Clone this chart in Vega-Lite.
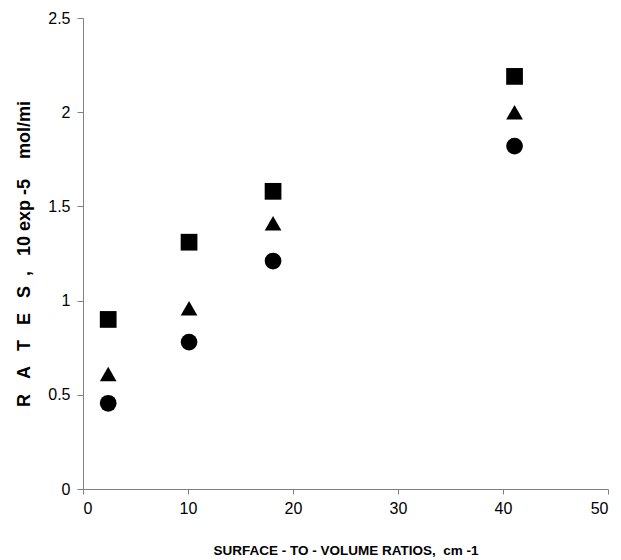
{
  "$schema": "https://vega.github.io/schema/vega-lite/v6.json",
  "width": 525,
  "height": 471,
  "autosize": {"type": "none"},
  "padding": {"left": 83, "top": 18, "right": 13, "bottom": 71},
  "background": "white",
  "config": {
    "view": {"stroke": null},
    "font": "Liberation Sans",
    "axis": {
      "grid": false,
      "domainColor": "#808080",
      "tickColor": "#808080",
      "tickSize": 5,
      "labelFont": "Liberation Sans",
      "labelFontSize": 16,
      "labelColor": "black",
      "titleFont": "Liberation Sans",
      "titleFontWeight": "bold",
      "titleColor": "black"
    }
  },
  "data": {
    "values": [
      {"ratio": 2.4, "rate": 0.90, "series": "A"},
      {"ratio": 10.1, "rate": 1.31, "series": "A"},
      {"ratio": 18.1, "rate": 1.58, "series": "A"},
      {"ratio": 41.1, "rate": 2.19, "series": "A"},
      {"ratio": 2.4, "rate": 0.61, "series": "B"},
      {"ratio": 10.1, "rate": 0.96, "series": "B"},
      {"ratio": 18.1, "rate": 1.41, "series": "B"},
      {"ratio": 41.1, "rate": 2.00, "series": "B"},
      {"ratio": 2.4, "rate": 0.455, "series": "C"},
      {"ratio": 10.1, "rate": 0.78, "series": "C"},
      {"ratio": 18.1, "rate": 1.21, "series": "C"},
      {"ratio": 41.1, "rate": 1.82, "series": "C"}
    ]
  },
  "mark": {"type": "point", "filled": true, "opacity": 1, "size": 280, "color": "black", "strokeWidth": 0},
  "encoding": {
    "x": {
      "field": "ratio",
      "type": "quantitative",
      "scale": {"domain": [0, 50], "nice": false},
      "axis": {
        "values": [0, 10, 20, 30, 40, 50],
        "labelExpr": "'' + datum.value",
        "title": "SURFACE - TO - VOLUME RATIOS,\u00a0\u00a0cm -1",
        "titleFontSize": 13.5,
        "labelPadding": 6,
        "titlePadding": 27
      }
    },
    "y": {
      "field": "rate",
      "type": "quantitative",
      "scale": {"domain": [0, 2.5], "nice": false},
      "axis": {
        "values": [0, 0.5, 1, 1.5, 2, 2.5],
        "labelExpr": "'' + datum.value",
        "title": "R\u00a0\u00a0\u00a0A\u00a0\u00a0\u00a0T\u00a0\u00a0\u00a0E\u00a0\u00a0\u00a0S\u00a0\u00a0,\u00a0\u00a0\u00a010 exp -5\u00a0\u00a0\u00a0\u00a0mol/mi",
        "titleFontSize": 18,
        "tickSize": 6,
        "labelPadding": 7,
        "titlePadding": 14
      }
    },
    "shape": {
      "field": "series",
      "type": "nominal",
      "scale": {"domain": ["A", "B", "C"], "range": ["square", "triangle-up", "circle"]},
      "legend": null
    }
  }
}
